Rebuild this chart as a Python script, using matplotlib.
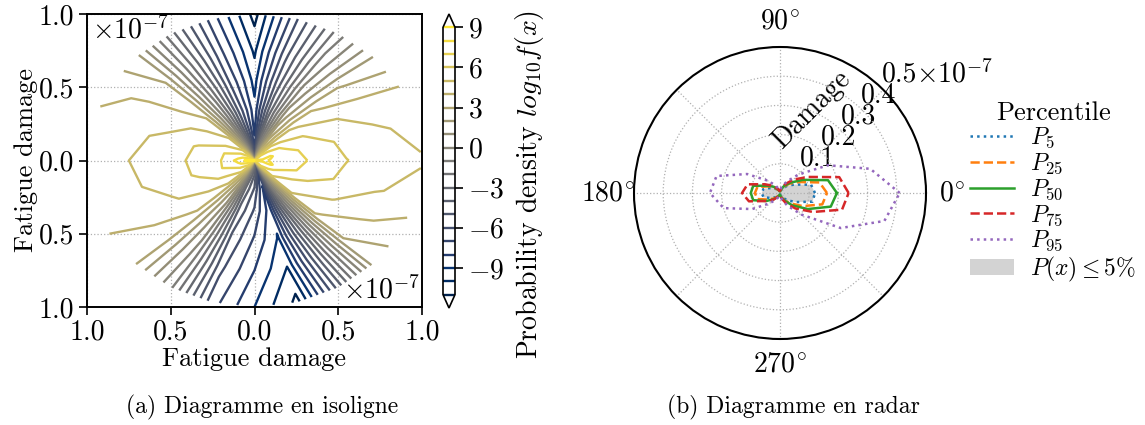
import numpy as np
import matplotlib
matplotlib.use('Agg')
import matplotlib.pyplot as plt
from matplotlib.lines import Line2D
from matplotlib.patches import Patch

plt.rcParams['font.family'] = ['cmr10', 'DejaVu Serif']
plt.rcParams['mathtext.fontset'] = 'cm'
plt.rcParams['axes.unicode_minus'] = False
plt.rcParams['axes.formatter.use_mathtext'] = True
plt.rcParams['font.size'] = 19

# ---- isoline data: log10 density on a polar grid (damage in 1e-7) ----
theta_deg = [0, 15, 30, 45, 60, 75, 90, 105, 120, 135, 150, 165,
             180, 195, 210, 225, 240, 255, 270, 285, 300, 315, 330, 345]
radius = [0.05, 0.1, 0.2, 0.35, 0.55, 0.75, 1.0]
log_density = [
    [8.15, 7.9, 7.5, 6.85, 6.03, 5.55, 5.1],
    [7.9, 8.1, 7.35, 6.6, 5.75, 5.2, 4.65],
    [7.6, 7.6, 6.75, 5.9, 5.05, 4.5, 4.05],
    [6.9, 6.3, 5.5, 4.7, 3.6, 2.8, 2.0],
    [4.6, 3.8, 2.6, 1.4, 0.2, -0.7, -1.5],
    [0.5, -0.6, -2.2, -3.4, -4.5, -5.2, -6.0],
    [-7.0, -7.5, -8.2, -8.7, -9.4, -10.2, -11.4],
    [-1.5, -2.8, -4.3, -5.3, -6.2, -6.8, -7.4],
    [3.0, 2.0, 0.6, -0.5, -1.4, -2.0, -2.6],
    [6.6, 6.0, 5.1, 4.2, 3.5, 3.0, 2.4],
    [7.6, 6.9, 6.0, 5.4, 4.5, 4.2, 3.7],
    [8.3, 7.7, 6.9, 6.1, 5.3, 4.7, 4.25],
    [9.2, 8.3, 7.0, 6.2, 5.55, 5.0, 4.4],
    [8.4, 7.8, 7.0, 6.15, 5.4, 4.85, 4.3],
    [7.6, 7.0, 6.2, 5.6, 4.9, 4.45, 4.0],
    [6.8, 6.1, 5.1, 4.4, 3.8, 3.4, 3.0],
    [4.0, 3.0, 1.8, 0.9, 0.2, -0.3, -0.8],
    [-0.5, -1.8, -3.3, -4.3, -5.2, -5.8, -6.5],
    [-3.0, -4.0, -5.2, -6.2, -7.2, -8.0, -9.0],
    [-7.2, -7.6, -8.1, -8.5, -9.1, -10.0, -11.3],
    [2.0, 1.0, -0.5, -1.8, -3.0, -3.8, -4.6],
    [7.0, 6.4, 5.6, 4.8, 3.8, 3.0, 2.3],
    [7.6, 7.3, 6.25, 5.6, 4.95, 4.2, 3.5],
    [7.9, 8.1, 7.3, 6.55, 5.75, 5.1, 4.6],
]
iso_levels = list(range(-11, 10))
cbar_ticks = [-9, -6, -3, 0, 3, 6, 9]

# ---- radar data: damage percentiles (1e-7) per direction ----
angles = theta_deg
p5 = [0.12, 0.11, 0.058, 0.035, 0.02, 0.01, 0.005, 0.006, 0.01, 0.02, 0.034, 0.058,
      0.063, 0.058, 0.034, 0.02, 0.01, 0.006, 0.005, 0.01, 0.02, 0.035, 0.062, 0.115]
p25 = [0.161, 0.14, 0.075, 0.045, 0.025, 0.012, 0.006, 0.007, 0.012, 0.025, 0.045, 0.08,
       0.086, 0.08, 0.045, 0.025, 0.012, 0.007, 0.006, 0.012, 0.03, 0.05, 0.09, 0.15]
p50 = [0.195, 0.17, 0.09, 0.05, 0.028, 0.012, 0.006, 0.007, 0.014, 0.03, 0.05, 0.095,
       0.10, 0.095, 0.055, 0.03, 0.015, 0.007, 0.006, 0.014, 0.03, 0.06, 0.11, 0.18]
p75 = [0.235, 0.21, 0.11, 0.065, 0.035, 0.016, 0.008, 0.008, 0.018, 0.035, 0.06, 0.115,
       0.13, 0.11, 0.055, 0.032, 0.016, 0.008, 0.008, 0.018, 0.04, 0.075, 0.13, 0.22]
p95 = [0.41, 0.32, 0.19, 0.09, 0.045, 0.02, 0.01, 0.012, 0.03, 0.06, 0.13, 0.225,
       0.24, 0.2, 0.11, 0.05, 0.025, 0.012, 0.01, 0.02, 0.05, 0.105, 0.24, 0.37]
percentile_names = [r'$P_{5}$', r'$P_{25}$', r'$P_{50}$', r'$P_{75}$', r'$P_{95}$']
percentile_styles = [(':', 'tab:blue'), ('--', 'tab:orange'), ('-', 'tab:green'),
                     ('--', 'tab:red'), (':', 'tab:purple')]

W, H = 1145, 425
fig = plt.figure(figsize=(W / 100, H / 100), dpi=100)


def box(x0, y0, x1, y1):
    return [x0 / W, 1 - y1 / H, (x1 - x0) / W, (y1 - y0) / H]


# ---------------- (a) isolines ----------------
ax = fig.add_axes(box(87, 14, 422, 307))
th = np.deg2rad(theta_deg + [360])
rr = np.array([0.0] + radius)
Z = np.array(log_density)
Z = np.vstack([Z, Z[:1]])
Z = np.column_stack([Z[:, 0], Z])
T, R = np.meshgrid(th, rr, indexing='ij')
X = R * np.cos(T)
Y = R * np.sin(T)
cs = ax.contour(X, Y, Z, levels=iso_levels, cmap='cividis', linewidths=1.7,
                extend='both', zorder=2)
ax.set_xlim(-1, 1)
ax.set_ylim(-1, 1)
ticks = [-1, -0.5, 0, 0.5, 1]
tick_txt = ['1.0', '0.5', '0.0', '0.5', '1.0']
ax.set_xticks(ticks)
ax.set_xticklabels(tick_txt)
ax.set_yticks(ticks)
ax.set_yticklabels(tick_txt)
ax.grid(ls=':', color='#b0b0b0', lw=0.9, zorder=0)
ax.tick_params(direction='out', length=6, width=1.2, labelsize=20, pad=3)
for s in ax.spines.values():
    s.set_linewidth(1.4)
ax.set_xlabel('Fatigue damage', labelpad=1)
ax.set_ylabel('Fatigue damage', labelpad=1)
ax.text(0.015, 0.995, r'$\times10^{-7}$', transform=ax.transAxes, ha='left', va='top',
        fontsize=20)
ax.text(0.995, 0.01, r'$\times10^{-7}$', transform=ax.transAxes, ha='right', va='bottom',
        fontsize=20)

cax = fig.add_axes(box(443, 14, 455, 308))
cb = fig.colorbar(cs, cax=cax)
cb.set_ticks(cbar_ticks)
cb.set_ticklabels([r'$%d$' % t for t in cbar_ticks])
cb.outline.set_linewidth(1.2)
cax.tick_params(direction='out', length=6, width=1.2, labelsize=20, pad=3)
fig.text(530 / W, 1 - 184 / H, r'Probability density $log_{10} f(x)$', rotation=90,
         ha='center', va='center', fontsize=20)

fig.text(262 / W, 1 - 407 / H, '(a) Diagramme en isoligne', ha='center', va='center', fontsize=17)

# ---------------- (b) radar ----------------
pax = fig.add_axes(box(634, 47, 926, 339), projection='polar')
ang = np.deg2rad(angles + [360])
series = [p5, p25, p50, p75, p95]
pax.fill(ang, p5 + p5[:1], color='lightgray', lw=0, zorder=1)
for vals, (ls, col) in zip(series, percentile_styles):
    pax.plot(ang, vals + vals[:1], ls=ls, color=col, lw=1.8, zorder=3)
pax.set_ylim(0, 0.5)
pax.set_thetagrids([0, 45, 90, 135, 180, 225, 270, 315],
                   labels=[r'$0^{\!\circ}$', '', r'$90^{\!\circ}$', '', r'$180^{\!\circ}$', '',
                           r'$270^{\!\circ}$', ''])
pax.set_rgrids([0.1, 0.2, 0.3, 0.4, 0.5], labels=['0.1', '0.2', '0.3', '0.4', '0.5'], angle=46)
pax.grid(ls=':', color='#b0b0b0', lw=0.9)
pax.spines['polar'].set_linewidth(1.5)
pax.tick_params(axis='x', pad=8, labelsize=20)
pax.tick_params(axis='y', labelsize=20)
fig.text(916 / W, 1 - 74 / H, r'$\times10^{-7}$', ha='left', va='center', fontsize=20)
fig.text(812 / W, 1 - 110 / H, 'Damage', rotation=45, ha='center', va='center', fontsize=20)

handles = [Line2D([], [], ls=ls, color=col, lw=1.8) for ls, col in percentile_styles]
handles.append(Patch(facecolor='lightgray', edgecolor='none'))
labels = percentile_names + [r'$P(x) \leq 5\%$']
fig.legend(handles, labels, title='Percentile', loc='upper left',
           bbox_to_anchor=(970 / W, 1 - 101 / H), frameon=False,
           handlelength=1.85, handletextpad=0.7, fontsize=17, title_fontsize=19,
           labelspacing=0.06, borderaxespad=0, borderpad=0)

fig.text(793 / W, 1 - 407 / H, '(b) Diagramme en radar', ha='center', va='center', fontsize=17)

fig.savefig('out.png', dpi=100)
